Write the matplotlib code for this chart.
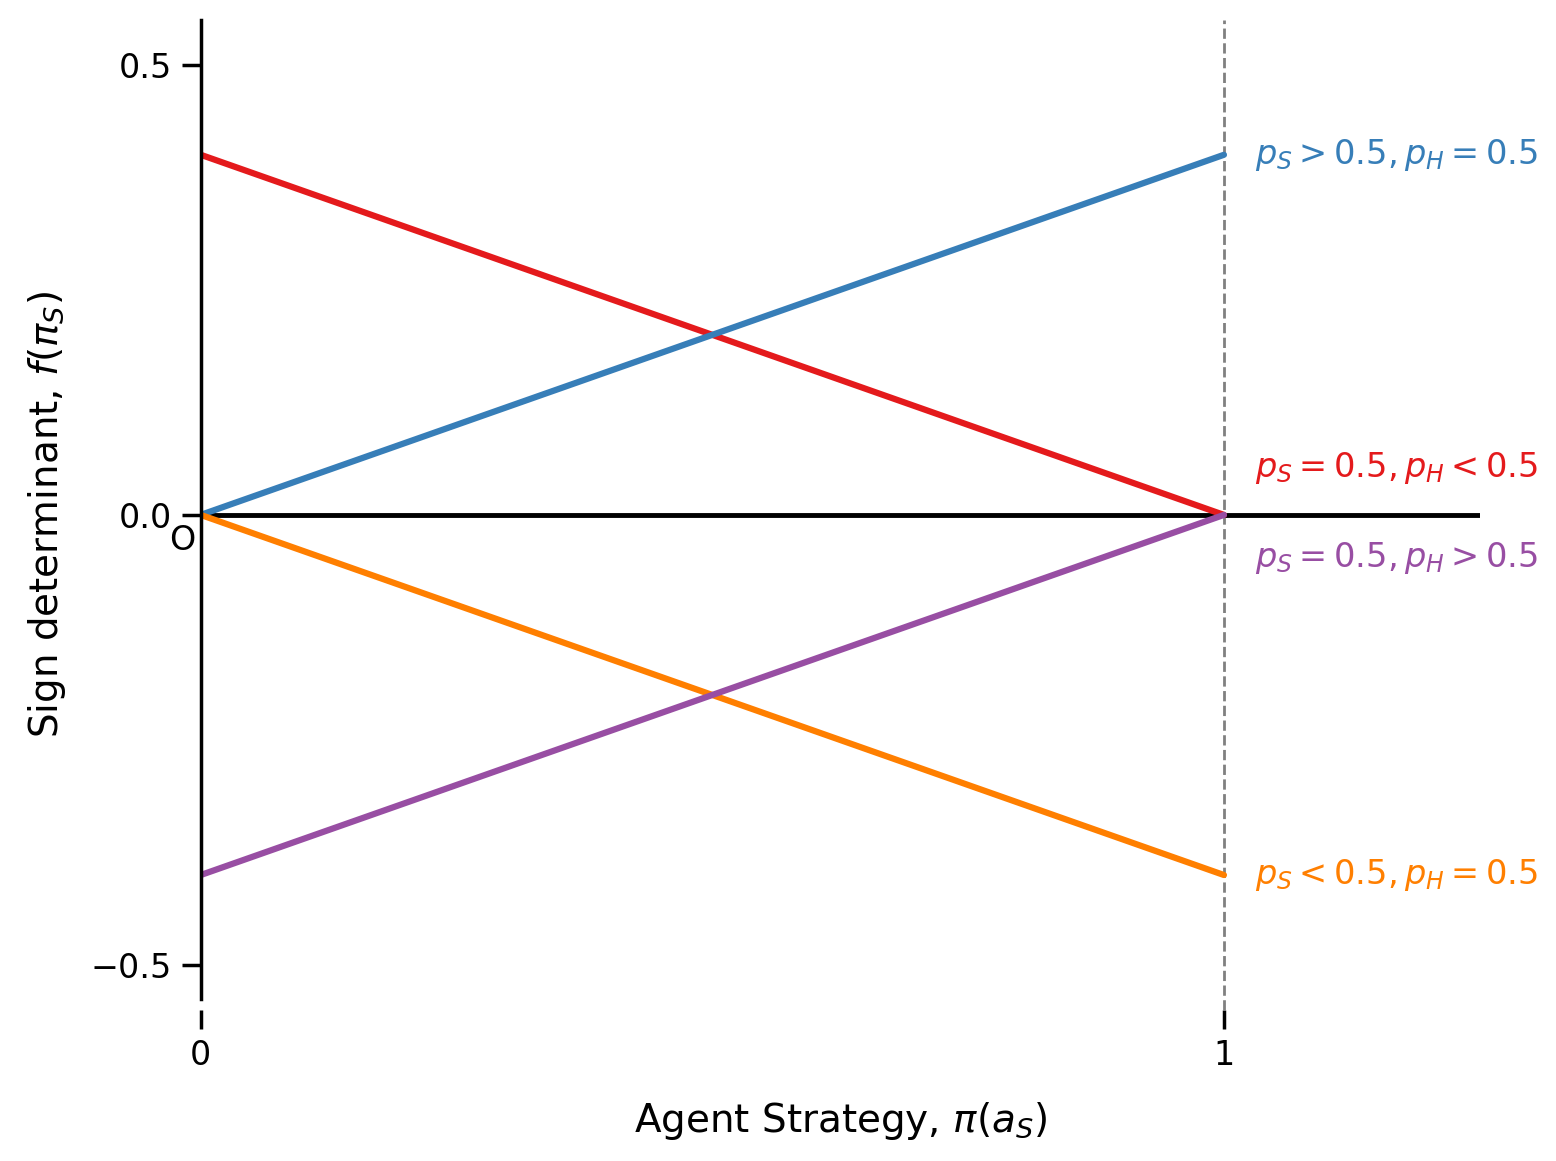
import matplotlib
matplotlib.use('Agg')
import matplotlib.pyplot as plt
import seaborn as sns

sns.set_theme(style='ticks', context='notebook')
plt.rcParams['text.color'] = 'black'
plt.rcParams['axes.labelcolor'] = 'black'

# endpoints of each line at pi=0 and pi=1
x_ends = [0, 1]
red_vals = [0.4, 0.0]
blue_vals = [0.0, 0.4]
orange_vals = [0.0, -0.4]
purple_vals = [-0.4, 0.0]

labels = {
    'blue': r'$p_S > 0.5, p_H = 0.5$',
    'red': r'$p_S = 0.5, p_H < 0.5$',
    'purple': r'$p_S = 0.5, p_H > 0.5$',
    'orange': r'$p_S < 0.5, p_H = 0.5$',
}
label_y = {'blue': 0.4, 'red': 0.052, 'purple': -0.048, 'orange': -0.4}

pal = sns.color_palette('Set1')
colors = {'red': pal[0], 'blue': pal[1], 'purple': pal[3], 'orange': pal[4]}

fig, ax = plt.subplots(figsize=(7.78, 5.805), dpi=200)
fig.subplots_adjust(left=0.129, right=0.951, top=0.983, bottom=0.13)

ax.axvline(1, color='gray', ls='--', lw=1)
ax.plot([0, 1.25], [0, 0], color='black', lw=1.75)

ax.plot(x_ends, red_vals, color=colors['red'], lw=2.25)
ax.plot(x_ends, blue_vals, color=colors['blue'], lw=2.25)
ax.plot(x_ends, orange_vals, color=colors['orange'], lw=2.25)
ax.plot(x_ends, purple_vals, color=colors['purple'], lw=2.25)

for k in ['blue', 'red', 'purple', 'orange']:
    ax.text(1.03, label_y[k], labels[k], color=colors[k], fontsize=12.1,
            ha='left', va='center')

ax.text(-0.005, -0.01, 'O', ha='right', va='top', fontsize=12)

ax.set_xlim(0, 1.25)
ax.set_ylim(-0.55, 0.55)
ax.set_xticks([0, 1])
ax.set_xticklabels(['0', '1'])
ax.set_yticks([-0.5, 0, 0.5])
ax.set_yticklabels(['\u22120.5', '0.0', '0.5'])
ax.tick_params(length=7, width=1.25, color='black', labelcolor='black',
               labelsize=12)

for s in ['top', 'right', 'bottom']:
    ax.spines[s].set_visible(False)
ax.spines['left'].set_color('black')
ax.spines['left'].set_bounds(-0.538, 0.55)

ax.set_xlabel(r'Agent Strategy, $\pi(a_S)$', fontsize=14, labelpad=10)
ax.set_ylabel(r'Sign determinant, $f(\pi_S)$', fontsize=14, labelpad=8)

fig.savefig('out.png', dpi=200)
